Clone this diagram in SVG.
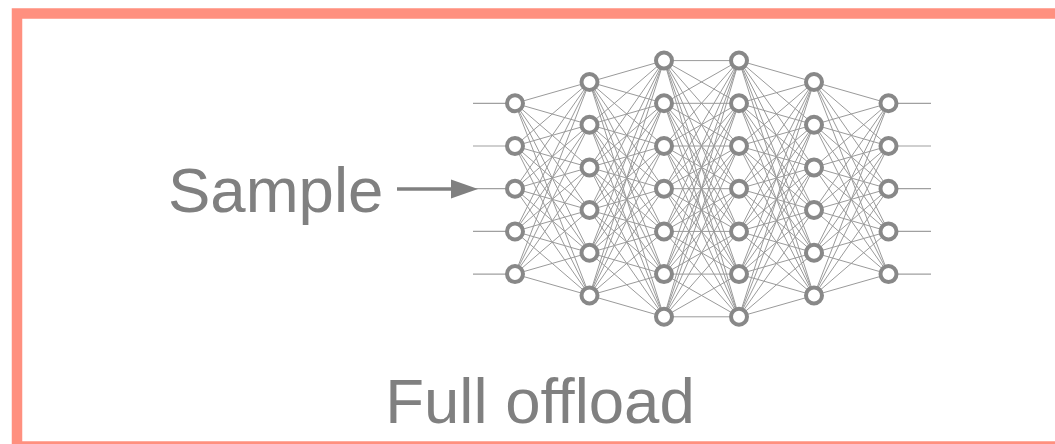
<svg xmlns="http://www.w3.org/2000/svg" width="1055" height="444" viewBox="0 0 1055 444">
  <style>
    .frame { fill: none; stroke: #FF907F; stroke-width: 10.5; }
    .edge { fill: none; stroke: #9a9a9a; stroke-width: 1; }
    .io { fill: none; stroke: #a0a0a0; stroke-width: 1.2; }
    .neuron { fill: #ffffff; stroke: #888888; stroke-width: 4; }
    .label { font-family: "Liberation Sans", Arial, Helvetica, sans-serif; font-size: 63.5px; fill: #808080; }
  </style>
  <rect width="1055" height="444" fill="#ffffff"/>
  <rect class="frame" x="17" y="13.5" width="1100" height="433"/>

  <!-- weights between consecutive layers -->
  <g id="connectors">
    <path class="edge" d="M515 103.3L589.5 82M515 103.3L589.5 124.7M515 103.3L589.5 167.4M515 103.3L589.5 210M515 103.3L589.5 252.7M515 103.3L589.5 295.4
      M515 146L589.5 82M515 146L589.5 124.7M515 146L589.5 167.4M515 146L589.5 210M515 146L589.5 252.7M515 146L589.5 295.4
      M515 188.7L589.5 82M515 188.7L589.5 124.7M515 188.7L589.5 167.4M515 188.7L589.5 210M515 188.7L589.5 252.7M515 188.7L589.5 295.4
      M515 231.4L589.5 82M515 231.4L589.5 124.7M515 231.4L589.5 167.4M515 231.4L589.5 210M515 231.4L589.5 252.7M515 231.4L589.5 295.4
      M515 274.1L589.5 82M515 274.1L589.5 124.7M515 274.1L589.5 167.4M515 274.1L589.5 210M515 274.1L589.5 252.7M515 274.1L589.5 295.4"/>
    <path class="edge" d="M589.5 82L664 60.6M589.5 82L664 103.3M589.5 82L664 146M589.5 82L664 188.7M589.5 82L664 231.4M589.5 82L664 274.1M589.5 82L664 316.8
      M589.5 124.7L664 60.6M589.5 124.7L664 103.3M589.5 124.7L664 146M589.5 124.7L664 188.7M589.5 124.7L664 231.4M589.5 124.7L664 274.1M589.5 124.7L664 316.8
      M589.5 167.4L664 60.6M589.5 167.4L664 103.3M589.5 167.4L664 146M589.5 167.4L664 188.7M589.5 167.4L664 231.4M589.5 167.4L664 274.1M589.5 167.4L664 316.8
      M589.5 210L664 60.6M589.5 210L664 103.3M589.5 210L664 146M589.5 210L664 188.7M589.5 210L664 231.4M589.5 210L664 274.1M589.5 210L664 316.8
      M589.5 252.7L664 60.6M589.5 252.7L664 103.3M589.5 252.7L664 146M589.5 252.7L664 188.7M589.5 252.7L664 231.4M589.5 252.7L664 274.1M589.5 252.7L664 316.8
      M589.5 295.4L664 60.6M589.5 295.4L664 103.3M589.5 295.4L664 146M589.5 295.4L664 188.7M589.5 295.4L664 231.4M589.5 295.4L664 274.1M589.5 295.4L664 316.8"/>
    <path class="edge" d="M664 60.6L739 60.6M664 60.6L739 103.3M664 60.6L739 146M664 60.6L739 188.7M664 60.6L739 231.4M664 60.6L739 274.1M664 60.6L739 316.8
      M664 103.3L739 60.6M664 103.3L739 103.3M664 103.3L739 146M664 103.3L739 188.7M664 103.3L739 231.4M664 103.3L739 274.1M664 103.3L739 316.8
      M664 146L739 60.6M664 146L739 103.3M664 146L739 146M664 146L739 188.7M664 146L739 231.4M664 146L739 274.1M664 146L739 316.8
      M664 188.7L739 60.6M664 188.7L739 103.3M664 188.7L739 146M664 188.7L739 188.7M664 188.7L739 231.4M664 188.7L739 274.1M664 188.7L739 316.8
      M664 231.4L739 60.6M664 231.4L739 103.3M664 231.4L739 146M664 231.4L739 188.7M664 231.4L739 231.4M664 231.4L739 274.1M664 231.4L739 316.8
      M664 274.1L739 60.6M664 274.1L739 103.3M664 274.1L739 146M664 274.1L739 188.7M664 274.1L739 231.4M664 274.1L739 274.1M664 274.1L739 316.8
      M664 316.8L739 60.6M664 316.8L739 103.3M664 316.8L739 146M664 316.8L739 188.7M664 316.8L739 231.4M664 316.8L739 274.1M664 316.8L739 316.8"/>
    <path class="edge" d="M739 60.6L814 82M739 60.6L814 124.7M739 60.6L814 167.4M739 60.6L814 210M739 60.6L814 252.7M739 60.6L814 295.4
      M739 103.3L814 82M739 103.3L814 124.7M739 103.3L814 167.4M739 103.3L814 210M739 103.3L814 252.7M739 103.3L814 295.4
      M739 146L814 82M739 146L814 124.7M739 146L814 167.4M739 146L814 210M739 146L814 252.7M739 146L814 295.4
      M739 188.7L814 82M739 188.7L814 124.7M739 188.7L814 167.4M739 188.7L814 210M739 188.7L814 252.7M739 188.7L814 295.4
      M739 231.4L814 82M739 231.4L814 124.7M739 231.4L814 167.4M739 231.4L814 210M739 231.4L814 252.7M739 231.4L814 295.4
      M739 274.1L814 82M739 274.1L814 124.7M739 274.1L814 167.4M739 274.1L814 210M739 274.1L814 252.7M739 274.1L814 295.4
      M739 316.8L814 82M739 316.8L814 124.7M739 316.8L814 167.4M739 316.8L814 210M739 316.8L814 252.7M739 316.8L814 295.4"/>
    <path class="edge" d="M814 82L888.5 103.3M814 82L888.5 146M814 82L888.5 188.7M814 82L888.5 231.4M814 82L888.5 274.1
      M814 124.7L888.5 103.3M814 124.7L888.5 146M814 124.7L888.5 188.7M814 124.7L888.5 231.4M814 124.7L888.5 274.1
      M814 167.4L888.5 103.3M814 167.4L888.5 146M814 167.4L888.5 188.7M814 167.4L888.5 231.4M814 167.4L888.5 274.1
      M814 210L888.5 103.3M814 210L888.5 146M814 210L888.5 188.7M814 210L888.5 231.4M814 210L888.5 274.1
      M814 252.7L888.5 103.3M814 252.7L888.5 146M814 252.7L888.5 188.7M814 252.7L888.5 231.4M814 252.7L888.5 274.1
      M814 295.4L888.5 103.3M814 295.4L888.5 146M814 295.4L888.5 188.7M814 295.4L888.5 231.4M814 295.4L888.5 274.1"/>
    <!-- input and output stubs -->
    <path class="io" d="M473 103.3H515M473 146H515M473 188.7H515M473 231.4H515M473 274.1H515"/>
    <path class="io" d="M888.5 103.3H931M888.5 146H931M888.5 188.7H931M888.5 231.4H931M888.5 274.1H931"/>
    <!-- sample arrow -->
    <g id="sample-arrow">
      <line x1="397" y1="189" x2="456" y2="189" stroke="#808080" stroke-width="3.4"/>
      <polygon points="451,179.5 478,189 451,198.5" fill="#808080"/>
    </g>
  </g>

  <!-- layer 1 -->
  <g id="n1-1"><circle class="neuron" cx="515" cy="103.3" r="8"/></g>
  <g id="n1-2"><circle class="neuron" cx="515" cy="146" r="8"/></g>
  <g id="n1-3"><circle class="neuron" cx="515" cy="188.7" r="8"/></g>
  <g id="n1-4"><circle class="neuron" cx="515" cy="231.4" r="8"/></g>
  <g id="n1-5"><circle class="neuron" cx="515" cy="274.1" r="8"/></g>
  <!-- layer 2 -->
  <g id="n2-1"><circle class="neuron" cx="589.5" cy="82" r="8"/></g>
  <g id="n2-2"><circle class="neuron" cx="589.5" cy="124.7" r="8"/></g>
  <g id="n2-3"><circle class="neuron" cx="589.5" cy="167.4" r="8"/></g>
  <g id="n2-4"><circle class="neuron" cx="589.5" cy="210" r="8"/></g>
  <g id="n2-5"><circle class="neuron" cx="589.5" cy="252.7" r="8"/></g>
  <g id="n2-6"><circle class="neuron" cx="589.5" cy="295.4" r="8"/></g>
  <!-- layer 3 -->
  <g id="n3-1"><circle class="neuron" cx="664" cy="60.6" r="8"/></g>
  <g id="n3-2"><circle class="neuron" cx="664" cy="103.3" r="8"/></g>
  <g id="n3-3"><circle class="neuron" cx="664" cy="146" r="8"/></g>
  <g id="n3-4"><circle class="neuron" cx="664" cy="188.7" r="8"/></g>
  <g id="n3-5"><circle class="neuron" cx="664" cy="231.4" r="8"/></g>
  <g id="n3-6"><circle class="neuron" cx="664" cy="274.1" r="8"/></g>
  <g id="n3-7"><circle class="neuron" cx="664" cy="316.8" r="8"/></g>
  <!-- layer 4 -->
  <g id="n4-1"><circle class="neuron" cx="739" cy="60.6" r="8"/></g>
  <g id="n4-2"><circle class="neuron" cx="739" cy="103.3" r="8"/></g>
  <g id="n4-3"><circle class="neuron" cx="739" cy="146" r="8"/></g>
  <g id="n4-4"><circle class="neuron" cx="739" cy="188.7" r="8"/></g>
  <g id="n4-5"><circle class="neuron" cx="739" cy="231.4" r="8"/></g>
  <g id="n4-6"><circle class="neuron" cx="739" cy="274.1" r="8"/></g>
  <g id="n4-7"><circle class="neuron" cx="739" cy="316.8" r="8"/></g>
  <!-- layer 5 -->
  <g id="n5-1"><circle class="neuron" cx="814" cy="82" r="8"/></g>
  <g id="n5-2"><circle class="neuron" cx="814" cy="124.7" r="8"/></g>
  <g id="n5-3"><circle class="neuron" cx="814" cy="167.4" r="8"/></g>
  <g id="n5-4"><circle class="neuron" cx="814" cy="210" r="8"/></g>
  <g id="n5-5"><circle class="neuron" cx="814" cy="252.7" r="8"/></g>
  <g id="n5-6"><circle class="neuron" cx="814" cy="295.4" r="8"/></g>
  <!-- layer 6 -->
  <g id="n6-1"><circle class="neuron" cx="888.5" cy="103.3" r="8"/></g>
  <g id="n6-2"><circle class="neuron" cx="888.5" cy="146" r="8"/></g>
  <g id="n6-3"><circle class="neuron" cx="888.5" cy="188.7" r="8"/></g>
  <g id="n6-4"><circle class="neuron" cx="888.5" cy="231.4" r="8"/></g>
  <g id="n6-5"><circle class="neuron" cx="888.5" cy="274.1" r="8"/></g>

  <g id="sample-label"><text class="label" x="168" y="212">Sample</text></g>
  <g id="title"><text class="label" x="540" y="423" text-anchor="middle">Full offload</text></g>
</svg>
